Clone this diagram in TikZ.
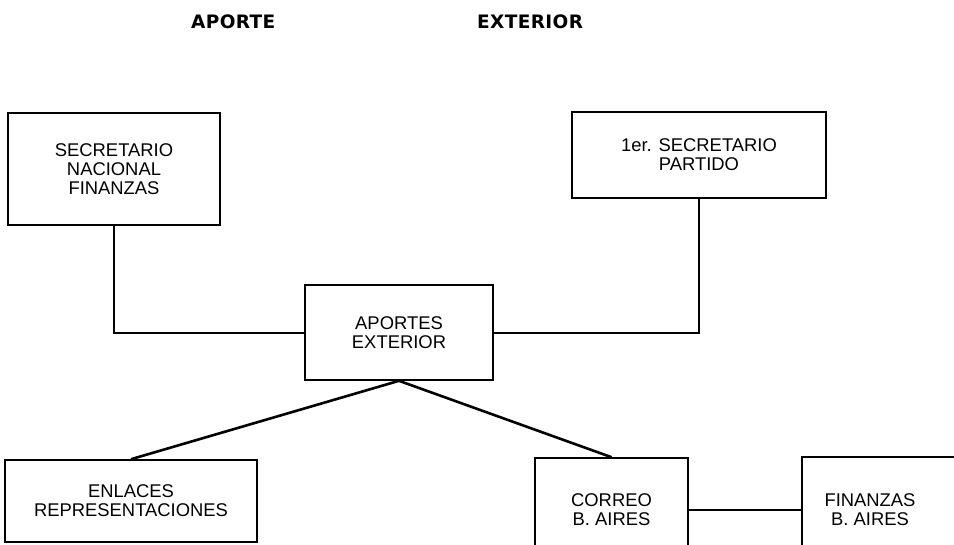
\documentclass[tikz,border=0pt]{standalone}
\usepackage{fontspec}
\setmainfont{Liberation Sans}
\newfontfamily\titlefont{DejaVu Sans}
\begin{document}
\begin{tikzpicture}[x=1pt,y=-1pt,
  boxst/.style={draw=black,line width=1.6pt,rectangle,inner sep=0pt,
    font=\fontsize{18.4}{19}\selectfont,align=center},
  txt/.style={inner sep=0pt,font=\fontsize{18.4}{19}\selectfont,align=center},
  title/.style={inner sep=0pt,anchor=base west,
    font=\titlefont\fontsize{18.5}{20}\selectfont\bfseries\addfontfeature{LetterSpace=2}},
  link/.style={draw=black,line width=2pt},
  diag/.style={draw=black,line width=2.6pt}]
\useasboundingbox (0,0) rectangle (954,544);
\clip (0,0) rectangle (954,544);
\fill[white] (0,0) rectangle (954,544);
% title
\node[title] (t1) at (191,28) {APORTE};
\node[title] (t2) at (477,28) {EXTERIOR};
% boxes
\node[boxst,minimum width=212pt,minimum height=112pt] (s1) at (114,169)
  {SECRETARIO\\NACIONAL\\FINANZAS};
\node[boxst,minimum width=254pt,minimum height=86pt] (s2) at (699,155)
  {1er. SECRETARIO\\PARTIDO};
\node[boxst,minimum width=188pt,minimum height=95pt] (ap) at (399,332.5)
  {APORTES\\EXTERIOR};
\node[boxst,minimum width=252pt,minimum height=82pt] (en) at (131,501)
  {ENLACES\\REPRESENTACIONES};
\node[boxst,minimum width=153pt,minimum height=104pt] (co) at (611.5,510)
  {CORREO\\B. AIRES};
\node[boxst,minimum width=170pt,minimum height=106pt] (fi) at (887,510) {};
\node[txt] (fit) at (870,510) {FINANZAS\\B. AIRES};
% connectors
\draw[link] (s1.south) |- (ap.west);
\draw[link] (s2.south) |- (ap.east);
\draw[diag] (ap.south) -- (en.north);
\draw[diag] (ap.south) -- (co.north);
\draw[link] (co.east) -- (fi.west);
\end{tikzpicture}
\end{document}
